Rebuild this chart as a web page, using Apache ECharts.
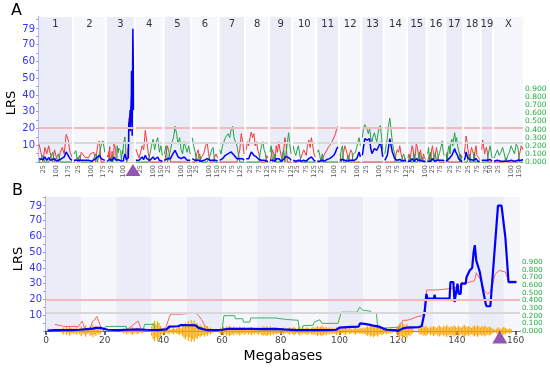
<!DOCTYPE html>
<html><head><meta charset="utf-8">
<script src="https://cdn.jsdelivr.net/npm/echarts@6/dist/echarts.min.js"></script>
<style>html,body{margin:0;padding:0;background:#fff}#c{width:550px;height:369px}</style>
</head><body><div id="c"></div>
<script>
// ---------- DATA ----------
const chrNames = ['1','2','3','4','5','6','7','8','9','10','11','12','13','14','15','16','17','18','19','X'];
const chrLengths = [195,182,160,157,152,150,145,129,125,131,122,120,121,125,104,98,95,91,61,171];
const chrTicks = [[25,100,175],[25,100,175],[25,100],[25,100,150],[25,100,150],[25,100,150],[25,75,125],[25,75,125],[25,75,125],[25,75,125],[25,100],[25,100],[25,100],[25,75,125],[25,100],[25,75],[25,75],[25,75],[25,50],[25,100,150]];
const lrsTicks = [10,20,30,40,50,60,70,79];
const mbTicks = [0,20,40,60,80,100,120,140,160];
const effectTicks = [0,0.1,0.2,0.3,0.4,0.5,0.6,0.7,0.8,0.9];
const suggestiveLRS = 11.5;
const significantLRS = 20.2;
const peakMb = 154.6; // chr3 marker

// Panel A: signed additive effect (+ red allele, - green allele), evenly spaced along each chromosome; chr3 uses panel B data
const aEffect = [
 [0.22,0.12,-0.08,0.18,0.1,0.2,0.08,-0.12,0.15,0.05,-0.1,0.12,0.18,0.1,0.34,0.28,0.12,0.06],
 [-0.1,-0.14,0.06,-0.08,0.12,0.1,0.06,0.08,0.05,0.1,0.08,0.12,-0.1,0.2,0.26,-0.2,-0.26,-0.12],
 null,
 [0.16,0.1,0.05,0.12,0.2,0.15,0.39,0.25,0.1,-0.1,-0.2,-0.28,-0.15,-0.25,-0.3,-0.12,-0.2,-0.08],
 [-0.1,-0.2,0.2,0.12,-0.15,-0.25,-0.3,-0.44,-0.35,-0.22,-0.3,-0.15,-0.1,-0.25,-0.18,-0.12,-0.2,-0.1],
 [-0.3,-0.2,-0.12,0.1,0.15,-0.1,0.05,0.08,0.12,0.2,0.24,0.1,-0.08,-0.15,-0.18,0.06,0.1,0.05],
 [-0.15,-0.1,-0.2,-0.25,-0.3,-0.28,-0.35,-0.3,-0.4,-0.44,-0.3,-0.25,-0.2,-0.1,0.15,0.35,0.25,0.1],
 [0.15,0.25,0.2,0.3,0.37,0.3,0.35,0.2,0.25,0.15,0.1,-0.12,-0.2,-0.25,-0.15,-0.1,0.08,0.05],
 [-0.12,-0.2,0.15,0.1,-0.1,0.2,0.12,0.25,0.15,0.08,-0.1,-0.15,0.3,0.2,-0.25,-0.36,-0.2,-0.1],
 [-0.2,-0.12,-0.08,-0.15,-0.2,-0.1,0.05,0.1,0.15,0.12,0.08,0.2,0.27,0.18,0.3,0.2,0.1,0.06],
 [-0.12,-0.15,-0.08,0.05,-0.1,0.06,0.1,0.12,0.15,0.18,0.2,0.22,0.25,0.28,0.3,0.35,0.42,0.44],
 [0.1,-0.15,-0.2,0.12,0.2,0.15,0.1,-0.08,0.1,0.15,0.12,-0.1,-0.08,-0.12,-0.18,-0.25,-0.3,-0.2],
 [-0.3,-0.42,-0.46,-0.45,-0.4,-0.35,-0.42,-0.3,-0.25,-0.32,-0.36,-0.3,-0.25,-0.35,-0.42,-0.45,-0.3,-0.15],
 [-0.1,-0.2,-0.3,-0.45,-0.54,-0.4,-0.25,-0.15,-0.1,0.1,0.15,0.12,0.2,0.1,0.08,-0.1,-0.05,0.05],
 [0.05,0.1,-0.08,0.12,0.2,0.15,-0.1,0.08,0.22,0.18,0.1,-0.12,0.15,0.08,-0.06,0.1,0.05,0.03],
 [-0.1,-0.18,0.1,-0.12,0.15,0.2,0.1,-0.08,-0.12,0.18,0.12,0.05,-0.1,-0.15,-0.2,-0.26,-0.12,-0.08],
 [-0.1,0.12,-0.15,-0.2,-0.1,-0.25,-0.28,-0.2,-0.3,-0.36,-0.25,-0.3,-0.2,-0.15,-0.1,0.1,-0.08,-0.05],
 [0.1,0.2,0.32,0.25,0.15,0.1,-0.1,0.12,0.18,0.2,0.1,-0.12,0.15,0.2,0.08,0.1,0.05,0.03],
 [0.15,0.27,0.2,0.1,0.15,0.18,0.12,-0.1,-0.15,-0.2,-0.12,-0.05],
 [-0.05,-0.1,-0.15,-0.08,-0.12,-0.18,-0.1,0.05,-0.08,-0.12,-0.2,-0.15,-0.1,-0.22,-0.18,0.1,0.2,0.15]
];
const aLRS = [
 [2,1,1.5,3,1,2.5,1,1,2,0.5,1,1.5,2,3,6,4,2,1],
 [1,2,1,0.5,1,1.5,1,0.5,1,1,0.5,1,2,3,4,2,3,1],
 null,
 [1,0.5,1,2,3,1.5,4,2,1,1,2,3,1.5,2,3,1,1.5,0.5],
 [1,2,2,1,2,4,5,7,5,3,4,2,1,3,2,1,2,1],
 [2,3,1,0.5,1,0.5,0.5,1,1,2,2,1,1,1.5,1,0.5,1,0.5],
 [1,1,2,3,4,3,5,4,6,5,4,3,2,1,2,3,2,1],
 [2,3,2,4,6,5,4,3,3,2,1.5,1,1,2,1,1,0.5,0.5],
 [1,1.5,1,1,0.5,2,1,2,1,0.5,1,1.5,3,2,3,4,2,1],
 [1,1,0.5,1,1,0.5,0.5,1,1,1,0.5,1.5,2,2,3,2,1,0.5],
 [0.5,1,0.5,0.5,1,1,0.5,1,1.5,2,2,2.5,3,3.5,4.5,6,8,9],
 [1,1,1.5,1,1,0.5,0.5,0.5,1,1,1,0.5,1,1,2,3,6,3],
 [4,9,14,15,13,12,14,8,5,6,8,9,7,6,10,12,8,3],
 [1,2,4,9,14,10,6,4,2,1,1,1,1.5,1,0.5,0.5,1,0.5],
 [0.5,1,0.5,1,2,1.5,0.5,1,2,1.5,1,1,1,0.5,0.5,1,0.5,0.5],
 [0.5,1,1,0.5,1,2,1,0.5,1,1.5,1,0.5,0.5,1,1.5,2,1,0.5],
 [0.5,1,1,2,1,3,4,3,5,8,6,5,4,2,1,1,0.5,0.5],
 [1,3,6,4,2,1,1,1.5,2,2,1,1,1.5,2,1,0.5,0.5,0.5],
 [1,2,2,1,1,1.5,1,0.5,1,1.5,1,0.5],
 [0.5,0.5,1,0.5,0.5,1,0.5,0.5,0.5,1,1,0.5,0.5,1,1,0.5,1,1.5]
];

// Panel B (chr3): [Mb, LRS]
const bLRS = [[0.5,0.3],[3,0.5],[6,0.5],[9,0.6],[11.5,0.8],[12,1.3],[14,1.2],[16,1.5],[17,2],[18.5,2],[19,1],[21,0.8],[25,0.6],[28,0.8],[31,1],[34,0.8],[38,0.6],[41,1],[42,2.8],[45,3],[46,3.8],[51,3.6],[52,2],[53.5,1.2],[55,0.5],[58,0.5],[60,0.8],[62,1.3],[66,1.4],[70,1.3],[74,1.2],[78,1.4],[81,1],[85,0.6],[90,0.5],[95,0.5],[99,0.8],[100,2.2],[104,2.6],[106.5,2.8],[107,4.8],[108.5,4.5],[110,4],[112,3.2],[113.5,2.8],[115,1.5],[116,0.8],[119,0.5],[120,0.1],[121.5,1.5],[123,2.2],[127,2.5],[128,3],[129,12],[129.6,23.5],[130,20.5],[132.2,20.5],[132.4,23],[132.7,20.5],[137.5,20.5],[137.8,31],[138.8,31],[139.2,18.4],[140.2,30],[140.6,23.6],[141.3,23.6],[141.5,30],[143,30],[143.3,34.3],[144.4,38.5],[145.2,40],[145.7,50],[146.1,54.5],[146.6,44.6],[147.8,37.4],[148.9,25.8],[149.8,17.4],[150.1,15.7],[151.4,15.7],[154,79.5],[155.2,79.5],[156.5,59.6],[157,59.6],[157.6,31],[160.3,31]];
// additive effect lines (null = break)
const bRed = [[3,0.086],[5,0.07],[6,0.06],[11,0.06],[11.8,0.1],[12.3,0.13],[12.8,0.08],[13.2,0.03],[15,0.03],[15.8,0.12],[16.5,0.14],[17.3,0.19],[18,0.12],[18.6,0.1],[19.2,0.01],null,
 [26.5,0.01],[28,0.03],[30,0.09],[31.4,0.13],[32,0.12],[32.5,0.02],[34,0.02],null,
 [40,0.02],[41,0.06],[42,0.18],[42.5,0.22],[46,0.22],[46.5,0.236],[51,0.236],[52,0.2],[53,0.15],[54,0.08],[55.5,0.02],null,
 [119.5,0.0],[120.5,0.06],[121.6,0.14],[123,0.14],[124,0.15],[126,0.18],[128,0.2],[129.2,0.245],[129.7,0.535],[133,0.535],[133.2,0.55],[137,0.55],[137.2,0.575],[141,0.575],[141.5,0.63],[143.5,0.63],[143.7,0.655],[146,0.655],[146.6,0.76],[148,0.67],[149.5,0.52],[150.5,0.48],[151.5,0.52],[153,0.74],[154.5,0.79],[156.5,0.77],[157.6,0.65],[160.3,0.65]];
const bGreen = [[19.5,0.0],[20.3,0.06],[27.3,0.06],[27.8,0.0],null,
 [33,0.0],[33.6,0.086],[36.8,0.086],[37.2,0.0],null,
 [60,0.0],[60.6,0.2],[64.3,0.2],[64.5,0.16],[67,0.16],[67.3,0.116],[69.4,0.116],[69.8,0.17],[78,0.17],[78.3,0.15],[82,0.15],[82.3,0.14],[85.9,0.14],[86.3,0.01],[87.2,0.01],[87.6,0.07],[91,0.075],[91.5,0.12],[93.3,0.146],[94,0.1],[99.5,0.1],[100.6,0.245],[106,0.245],[106.9,0.31],[107.5,0.3],[108,0.27],[110.5,0.26],[111,0.23],[112.6,0.23],[113,0.04],[116,0.04],[116.5,0.05],[120,0.05],[120.3,0]];
// orange spikes: cluster starts (Mb), 0.5 Mb step, half-heights in LRS units
const orangeStart = [5.5,26,36,40,46.5,53,59,100,119.5,127];
const orangeAmp = [
 [1.5,2.2,1,2.6,1.4,3,2,1.2,2.1,1.5,2.6,1.1,2,3.2,1.6,2.3,3.6,2.1,1.4,3.1,2.5,4,2.2,3.3,1.6,2.4,1.8],
 [1,1.6,0.9,2,1.4,1,2.1,2.6,1.5,1.1,2,1.6,1,1.5,1.2],
 [3,5.2,6.5,4.1,6.2,5,3.3,2],
 [1.4,2,1,1.6,2.1,0.9,1.5,2.2,1.1,1.6,2,2.6,1.8],
 [3.1,4.2,5.3,3.6,6.4,4.1,7,5.2,6.6,4.3,5.1,3.2,4],
 [3,2.5,3.6,2,3.1,1.6,2.2,1.5,1],
 [1.2,2,1.5,2.6,1.8,3,2.2,3.4,2.5,1.9,2.8,1.5,2.4,1.7,2.9,2.1,1.3,2.5,1.8,1.1,2.2,1.6,2.7,1.4,2,1.2,1.8,2.3,1.5,2.6,3,2.4,3.2,2.7,2,2.9,1.8,2.5,1.4,2.1,1.7,1.2,1.9,1.4,2.2,1.6,1.1,1.8,2.4,1.5,2,2.7,1.9,1.3,2.2,2.8,1.6,2.1,1.4,1.9,2.5,1.7,1.2,2,2.6,1.8,2.3,3.1,2.2,2.7,3.3,2.5,2,2.8,1.7,2.4,1.5,2.1,1.3,1.9,2.6,1.6],
 [1.5,2.2,1.3,1.8,2.5,1.6,1.1,2,1.4,0.9,1.7,2.3,1.5,1.2,1.9,1.4,2.1,1.6,2.4,3,2.2,3.5,2.8,3.9,3.1,2.6,3.6,2.4,1.9,2.7,2,1.5,2.2,1.6,1.1,1.8,1.3],
 [2,3.5,4.8,3.2,5.2,4,3,4.4,2.6,3.3,2,1.5],
 [1.5,2.4,2,3,2.6,3.4,2.2,1.6,2.8,2,3.2,2.5,1.8,2.9,3.5,2.7,2.1,3.3,2.6,3.8,2.9,2.2,3.1,2.4,3.6,2.8,2,3.4,2.7,2.1,3,3.9,2.8,2.3,3.2,2.5,1.9,2.8,3.4,2.6,3.7,2.9,2.2,3.1,2.5,3.5,2.7,2,2.9,2.3,1.7,1.2,0.8,1.5,2.2,1.6,1.1,2,2.7,1.9,1.4,1,1.6,1.2]
];
const bBandWidth = 12;
const bMax = 161.5;

// ---------- BUILD ----------
const GAP = 12;
const chrOffset = []; let acc = 0;
chrLengths.forEach(L => { chrOffset.push(acc); acc += L + GAP; });
const genomeEnd = acc - GAP;

const aTickVals = [];
chrTicks.forEach((ts, i) => ts.forEach(t => aTickVals.push(chrOffset[i] + t)));
function aLabel(v) {
  for (let i = 0; i < chrOffset.length; i++) {
    if (v >= chrOffset[i] - 0.01 && v <= chrOffset[i] + chrLengths[i] + 0.01) return String(Math.round(v - chrOffset[i]));
  }
  return '';
}

const aBlueData = [], aRedData = [], aGreenData = [];
function pushPairs(target, pairs, off) {
  pairs.forEach(p => { if (p === null) target.push([off, '-']); else target.push([off + p[0], p[1]]); });
}
chrLengths.forEach((L, i) => {
  const off = chrOffset[i];
  if (i === 2) {
    pushPairs(aBlueData, bLRS, off);
    pushPairs(aRedData, bRed, off);
    pushPairs(aGreenData, bGreen, off);
  } else {
    const b = aLRS[i];
    b.forEach((v, j) => aBlueData.push([off + L * j / (b.length - 1), v]));
    const e = aEffect[i];
    e.forEach((v, j) => {
      const x = off + L * j / (e.length - 1);
      aRedData.push([x, Math.max(v, 0)]);
      aGreenData.push([x, Math.max(-v, 0)]);
    });
  }
  const gx = off + L + GAP / 2;
  aBlueData.push([gx, '-']); aRedData.push([gx, '-']); aGreenData.push([gx, '-']);
});

const bandsA = chrNames.map((n, i) => [
  { name: n, xAxis: chrOffset[i], itemStyle: { color: i % 2 === 0 ? '#eaecf7' : '#f6f7fc' } },
  { xAxis: chrOffset[i] + chrLengths[i] }
]);
const threshA = [];
chrNames.forEach((n, i) => {
  threshA.push([{ coord: [chrOffset[i], significantLRS], lineStyle: { color: '#f6b9b9', width: 2, type: 'solid' } }, { coord: [chrOffset[i] + chrLengths[i], significantLRS] }]);
  threshA.push([{ coord: [chrOffset[i], suggestiveLRS], lineStyle: { color: '#d8d8d8', width: 2, type: 'solid' } }, { coord: [chrOffset[i] + chrLengths[i], suggestiveLRS] }]);
});

const bandsB = [];
for (let s = 0, k = 0; s < bMax; s += bBandWidth, k++) {
  bandsB.push([{ xAxis: s, itemStyle: { color: k % 2 === 0 ? '#eaecf7' : '#f6f7fc' } }, { xAxis: Math.min(s + bBandWidth, bMax) }]);
}
const orangeData = [];
orangeStart.forEach((s, c) => orangeAmp[c].forEach((a, j) => orangeData.push([s + j * 0.5, a])));

function mapPairs(pairs) { return pairs.map(p => p === null ? [0, '-'] : p); }

const blueCol = '#0000ff', font = 'DejaVu Sans';
const yLabel = { customValues: lrsTicks, color: '#3434ff', fontSize: 10, fontFamily: font, margin: 4 };
const yLine = { show: true, lineStyle: { color: '#a0a0f0', width: 1.5 } };
const yTick = { show: true, customValues: [0,5,10,15,20,25,30,35,40,45,50,55,60,65,70,75,80,85], length: 3, lineStyle: { color: '#a0a0f0' } };
const greenAxis = (fs) => ({
  type: 'value', min: 0, max: 0.9, position: 'right',
  axisLine: { show: true, lineStyle: { color: '#3fbf66', width: 1 } },
  axisTick: { show: true, customValues: effectTicks, length: 3, lineStyle: { color: '#3fbf66' } },
  axisLabel: { customValues: effectTicks, interval: 0, hideOverlap: false, showMinLabel: true, showMaxLabel: true, color: '#22aa44', fontSize: fs, fontFamily: font, margin: 2, formatter: v => v.toFixed(3) },
  splitLine: { show: false }
});

const chart = echarts.init(document.getElementById('c'), null, { renderer: 'canvas' });
chart.setOption({
  animation: false,
  backgroundColor: '#fff',
  grid: [
    { left: 39, right: 27, top: 17, bottom: 207 },
    { left: 39, right: 27, top: 89, bottom: 207 },
    { left: 46, right: 30, top: 197, bottom: 38 },
    { left: 46, right: 30, top: 262, bottom: 38 }
  ],
  xAxis: [
    { gridIndex: 0, type: 'value', min: 0, max: genomeEnd, splitLine: { show: false },
      axisLine: { show: true, lineStyle: { color: '#c8c8c8' } }, axisTick: { show: false },
      axisLabel: { customValues: aTickVals, interval: 0, rotate: 90, fontSize: 6.5, color: '#555', fontFamily: font, margin: 3, formatter: aLabel, hideOverlap: false } },
    { gridIndex: 1, type: 'value', min: 0, max: genomeEnd, show: false },
    { gridIndex: 2, type: 'value', min: 0, max: bMax, splitLine: { show: false },
      axisLine: { show: true, lineStyle: { color: '#555', width: 1.5 } },
      axisTick: { show: true, customValues: mbTicks, length: 4, lineStyle: { color: '#333', width: 1.5 } },
      axisLabel: { customValues: mbTicks, fontSize: 9, color: '#444', fontFamily: font, margin: 5 } },
    { gridIndex: 3, type: 'value', min: 0, max: bMax, show: false }
  ],
  yAxis: [
    { gridIndex: 0, type: 'value', min: 0, max: 86.5, axisLine: yLine, axisTick: yTick, axisLabel: yLabel, splitLine: { show: false } },
    Object.assign({ gridIndex: 1 }, greenAxis(7.5)),
    { gridIndex: 2, type: 'value', min: 0, max: 85, axisLine: yLine, axisTick: yTick, axisLabel: yLabel, splitLine: { show: false } },
    Object.assign({ gridIndex: 3 }, greenAxis(7.2))
  ],
  graphic: [
    { type: 'text', left: 11, top: 3, style: { text: 'A', font: '16px "DejaVu Sans"', fill: '#000' } },
    { type: 'text', left: 12, top: 183, style: { text: 'B', font: '16px "DejaVu Sans"', fill: '#000' } },
    { type: 'text', x: 12, y: 103, rotation: Math.PI / 2, style: { text: 'LRS', font: '13px "DejaVu Sans"', fill: '#000', align: 'center', verticalAlign: 'middle' } },
    { type: 'text', x: 19, y: 259, rotation: Math.PI / 2, style: { text: 'LRS', font: '13px "DejaVu Sans"', fill: '#000', align: 'center', verticalAlign: 'middle' } },
    { type: 'text', x: 283, y: 356, style: { text: 'Megabases', font: '14px "DejaVu Sans"', fill: '#000', align: 'center', verticalAlign: 'middle' } }
  ],
  series: [
    { type: 'line', xAxisIndex: 0, yAxisIndex: 0, data: [[0, '-']], silent: true, z: 1,
      markArea: { silent: true, label: { show: true, position: 'insideTop', distance: 2, color: '#333', fontSize: 10, fontFamily: font }, data: bandsA },
      markLine: { silent: true, symbol: 'none', label: { show: false }, lineStyle: { type: 'solid' }, data: threshA } },
    { type: 'line', xAxisIndex: 1, yAxisIndex: 1, data: aRedData, showSymbol: false, symbol: 'none', lineStyle: { color: '#f03a3a', width: 1 }, z: 3, clip: false },
    { type: 'line', xAxisIndex: 1, yAxisIndex: 1, data: aGreenData, showSymbol: false, symbol: 'none', lineStyle: { color: '#24a044', width: 1 }, z: 3, clip: false },
    { type: 'line', xAxisIndex: 0, yAxisIndex: 0, data: aBlueData, showSymbol: false, symbol: 'none', lineStyle: { color: blueCol, width: 1.5 }, z: 4 },
    { type: 'scatter', xAxisIndex: 0, yAxisIndex: 0, data: [[chrOffset[2] + peakMb, 0]], symbol: 'triangle', symbolSize: [15, 12], symbolOffset: [0, 8], itemStyle: { color: '#7a2c9e' }, clip: false, z: 6, silent: true },

    { type: 'line', xAxisIndex: 2, yAxisIndex: 2, data: [[0, '-']], silent: true, z: 1,
      markArea: { silent: true, label: { show: false }, data: bandsB },
      markLine: { silent: true, symbol: 'none', label: { show: false }, data: [
        { yAxis: significantLRS - 0.2, lineStyle: { color: '#f6b9b9', width: 2, type: 'solid' } },
        { yAxis: suggestiveLRS + 0.2, lineStyle: { color: '#d8d8d8', width: 2, type: 'solid' } } ] } },
    { type: 'custom', xAxisIndex: 2, yAxisIndex: 2, data: orangeData, clip: false, z: 2, silent: true,
      renderItem: (params, api) => {
        const x = api.value(0), a = api.value(1);
        const p1 = api.coord([x, a]), p2 = api.coord([x, -a]);
        return { type: 'line', shape: { x1: p1[0], y1: p1[1], x2: p2[0], y2: p2[1] }, style: { stroke: '#ffa500', lineWidth: 1.2 } };
      } },
    { type: 'line', xAxisIndex: 3, yAxisIndex: 3, data: mapPairs(bRed), showSymbol: false, symbol: 'none', lineStyle: { color: '#ff6060', width: 1 }, z: 3, clip: false },
    { type: 'line', xAxisIndex: 3, yAxisIndex: 3, data: mapPairs(bGreen), showSymbol: false, symbol: 'none', lineStyle: { color: '#3cb060', width: 1 }, z: 3, clip: false },
    { type: 'line', xAxisIndex: 2, yAxisIndex: 2, data: bLRS, showSymbol: false, symbol: 'none', lineStyle: { color: blueCol, width: 2.2 }, z: 4 },
    { type: 'scatter', xAxisIndex: 2, yAxisIndex: 2, data: [[peakMb, 0]], symbol: 'triangle', symbolSize: [15, 13], symbolOffset: [0, 6], itemStyle: { color: '#7a2c9e' }, clip: false, z: 6, silent: true }
  ]
});
</script>
</body></html>
